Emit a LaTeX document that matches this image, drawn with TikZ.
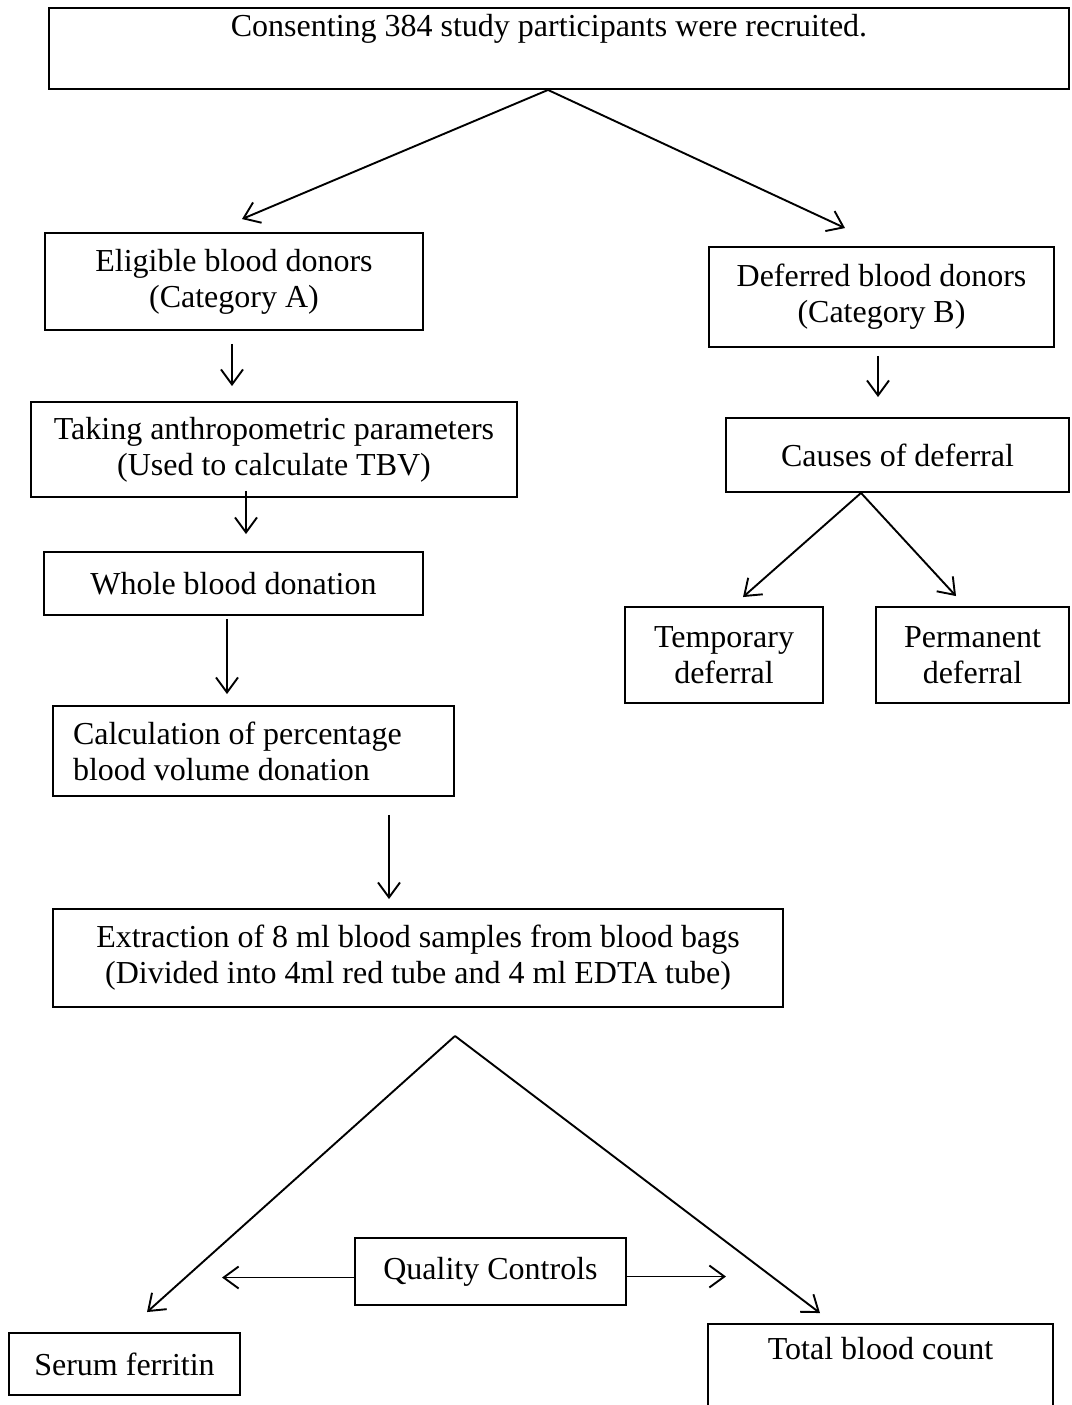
\documentclass[tikz,border=0pt]{standalone}
\usepackage{fontspec}
\setmainfont{Liberation Serif}
\usetikzlibrary{arrows.meta}
\begin{document}
\begin{tikzpicture}[x=1pt,y=-1pt,
  every node/.style={font=\fontsize{32}{36}\selectfont},
  box/.style={draw, line width=1.9pt, inner sep=0pt, align=center},
  arr/.style={line width=1.9pt, -{Straight Barb[length=15pt,width=22pt]}}]
\useasboundingbox (0,0) rectangle (1071,1405);

\node[box, minimum width=1020pt, minimum height=81pt] (top) at (559,48.5) {Consenting 384 study participants were recruited.\hspace*{20pt}\\\strut};
\node[box, minimum width=378pt, minimum height=97pt] (elig) at (234,281.5) {Eligible blood donors\\(Category A)};
\node[box, minimum width=345pt, minimum height=100pt] (def) at (881.5,297) {Deferred blood donors\\(Category B)};
\node[box, minimum width=486pt, minimum height=95pt] (take) at (274,449.5) {Taking anthropometric parameters\\(Used to calculate TBV)};
\node[box, minimum width=343pt, minimum height=74pt] (cause) at (897.5,455) {Causes of deferral};
\node[box, minimum width=379pt, minimum height=63pt] (whole) at (233.5,583.5) {Whole blood donation};
\node[box, minimum width=198pt, minimum height=96pt] (temp) at (724,655) {Temporary\\deferral};
\node[box, minimum width=193pt, minimum height=96pt] (perm) at (972.5,655) {Permanent\\deferral};
\node[box, align=flush left, text width=361pt, inner xsep=20pt, minimum height=90pt] (calc) at (253.5,751) {Calculation of percentage\\blood volume donation};
\node[box, minimum width=730pt, minimum height=98pt] (extr) at (418,958) {Extraction of 8 ml blood samples from blood bags\\(Divided into 4ml red tube and 4 ml EDTA tube)};
\node[box, minimum width=271pt, minimum height=67pt] (qc) at (490.5,1271.5) {Quality Controls};
\node[box, minimum width=231pt, minimum height=62pt] (serum) at (124.5,1364) {Serum ferritin};
\node[box, minimum width=345pt, minimum height=96pt] (total) at (880.5,1372) {Total blood count\\\strut};

\coordinate (split) at ([shift={(37,28)}]extr.south);

\draw[arr] ([shift={(-11,0)}]top.south) -- ([shift={(8,-13)}]elig.north);
\draw[arr] ([shift={(-11,0)}]top.south) -- ([shift={(-36.5,-18)}]def.north);
\draw[arr] ([shift={(-2,13)}]elig.south) -- ([shift={(-42,-15)}]take.north);
\draw[arr] ([shift={(-3.5,8)}]def.south) -- ([shift={(-19.5,-20)}]cause.north);
\draw[arr] ([shift={(-28,-7)}]take.south) -- ([shift={(12.5,-17)}]whole.north);
\draw[arr] ([shift={(-36.5,0)}]cause.south) -- ([shift={(19,-9)}]temp.north);
\draw[arr] ([shift={(-36.5,0)}]cause.south) -- ([shift={(-16.5,-10)}]perm.north);
\draw[arr] ([shift={(-6.5,3)}]whole.south) -- ([shift={(-26.5,-11)}]calc.north);
\draw[arr] ([shift={(135.5,18)}]calc.south) -- ([shift={(-29,-9)}]extr.north);
\draw[arr] (split) -- ([shift={(22.5,-20)}]serum.north);
\draw[arr] (split) -- ([shift={(-60.5,-10)}]total.north);
\draw[arr] ([shift={(0,6)}]qc.west) -- ([shift={(-132,6)}]qc.west);
\draw[arr] ([shift={(0,5)}]qc.east) -- ([shift={(99,5)}]qc.east);
\end{tikzpicture}
\end{document}
